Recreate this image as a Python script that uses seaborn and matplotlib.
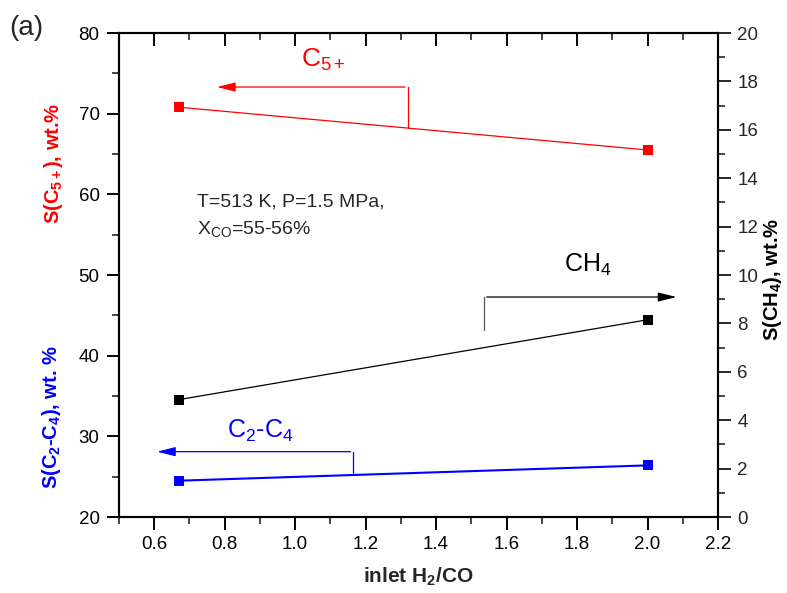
import numpy as np
import pandas as pd
import matplotlib
matplotlib.use("Agg")
import matplotlib.pyplot as plt
from matplotlib.ticker import MultipleLocator
import seaborn as sns

# data
ratio = [0.67, 2.0]
s_c5 = [70.8, 65.5]      # left axis, wt.%
s_c2c4 = [24.5, 26.4]    # left axis, wt.%
s_ch4 = [4.85, 8.15]     # right axis, wt.%
x_ticks = [0.6, 0.8, 1.0, 1.2, 1.4, 1.6, 1.8, 2.0, 2.2]

sns.set_style("ticks")
plt.rcParams['font.family'] = ['Liberation Sans', 'DejaVu Sans']
plt.rcParams['mathtext.fontset'] = 'custom'
plt.rcParams['mathtext.rm'] = 'Liberation Sans'
plt.rcParams['mathtext.bf'] = 'Liberation Sans:bold'
plt.rcParams['mathtext.it'] = 'Liberation Sans:italic'

df = pd.DataFrame({'ratio': ratio, 'C5': s_c5, 'C2C4': s_c2c4, 'CH4': s_ch4})

fig = plt.figure(figsize=(7.87, 5.93), dpi=100)
ax = fig.add_axes([119 / 787, 1 - 517 / 593, (718 - 119) / 787, (517 - 33) / 593])
ax2 = ax.twinx()

sns.lineplot(data=df, x='ratio', y='C5', ax=ax, color='red', marker='s',
             markersize=7, markeredgewidth=0, linewidth=0.9)
sns.lineplot(data=df, x='ratio', y='C2C4', ax=ax, color='blue', marker='s',
             markersize=7, markeredgewidth=0, linewidth=1.5)
sns.lineplot(data=df, x='ratio', y='CH4', ax=ax2, color='black', marker='s',
             markersize=7, markeredgewidth=0, linewidth=0.9)

ax.set_xlim(0.5, 2.2)
ax.set_ylim(20, 80)
ax2.set_ylim(0, 20)
ax.set_xticks(x_ticks)
ax.set_xticklabels([f"{v:.1f}" for v in x_ticks])
ax.xaxis.set_minor_locator(MultipleLocator(0.1))
ax.yaxis.set_major_locator(MultipleLocator(10))
ax.yaxis.set_minor_locator(MultipleLocator(5))
ax2.yaxis.set_major_locator(MultipleLocator(2))
ax2.yaxis.set_minor_locator(MultipleLocator(1))

for a in (ax, ax2):
    for sp in a.spines.values():
        sp.set_visible(True)
        sp.set_linewidth(1.5)
        sp.set_color('black')
ax.tick_params(axis='both', which='major', direction='out', length=9, width=1.4,
               labelsize=13.5, colors='black', pad=5)
ax.tick_params(axis='both', which='minor', direction='out', length=5, width=1.2)
ax.tick_params(axis='x', which='both', top=True)
ax2.tick_params(axis='y', which='major', direction='out', length=9, width=1.4,
                labelsize=13.5, pad=5)
ax2.tick_params(axis='y', which='minor', direction='out', length=5, width=1.2)
# top ticks point inward
for t in ax.xaxis.get_major_ticks() + ax.xaxis.get_minor_ticks():
    t.tick2line.set_marker(3)

ax.set_xlabel('')
ax.set_ylabel('')
ax2.set_ylabel('')

# axis titles placed as in the reference
fig.text(0.532, 0.028, r'inlet H$_\mathbf{2}$/CO', fontsize=15, fontweight='bold',
         ha='center', va='center')
fig.text(0.068, 0.725, r'S(C$_\mathbf{5+}$), wt.%', color='red', rotation=90,
         fontsize=14.5, fontweight='bold', ha='center', va='center')
fig.text(0.066, 0.297, r'S(C$_\mathbf{2}$-C$_\mathbf{4}$), wt. %', color='blue', rotation=90,
         fontsize=14.5, fontweight='bold', ha='center', va='center')
fig.text(0.982, 0.528, r'S(CH$_\mathbf{4}$), wt.%', color='black', rotation=90,
         fontsize=14.5, fontweight='bold', ha='center', va='center')

# series arrows
ax.plot([1.32, 1.32], [68.2, 73.3], color='red', lw=0.9)
ax.annotate('', xy=(0.77, 73.3), xytext=(1.32, 73.3),
            arrowprops=dict(arrowstyle='-|>,head_length=0.8,head_width=0.2',
                            color='red', lw=0.9, mutation_scale=14))
ax.text(1.08, 76.7, r'C$_{5+}$', color='red', fontsize=19, ha='center', va='center')

ax.plot([1.165, 1.165], [28.1, 25.5], color='blue', lw=0.9)
ax.annotate('', xy=(0.6, 28.1), xytext=(1.165, 28.1),
            arrowprops=dict(arrowstyle='-|>,head_length=0.8,head_width=0.2',
                            color='blue', lw=0.9, mutation_scale=14))
ax.text(0.9, 30.7, r'C$_2$-C$_4$', color='blue', fontsize=18, ha='center', va='center')

ax2.plot([1.536, 1.536], [7.73, 9.09], color='#555555', lw=0.9)
ax2.annotate('', xy=(2.09, 9.09), xytext=(1.536, 9.09),
             arrowprops=dict(arrowstyle='-|>,head_length=0.8,head_width=0.2',
                             color='black', lw=0.9, mutation_scale=14))
ax2.text(1.83, 10.4, r'CH$_4$', color='black', fontsize=18, ha='center', va='center')

ax.text(0.72, 57.3, 'T=513 K, P=1.5 MPa,\n' + r'X$_\mathrm{CO}$=55-56%', fontsize=14,
        ha='left', va='center', linespacing=1.6)

fig.text(0.012, 0.953, '(a)', fontsize=20, ha='left', va='center')

fig.savefig('out.png', dpi=100)
